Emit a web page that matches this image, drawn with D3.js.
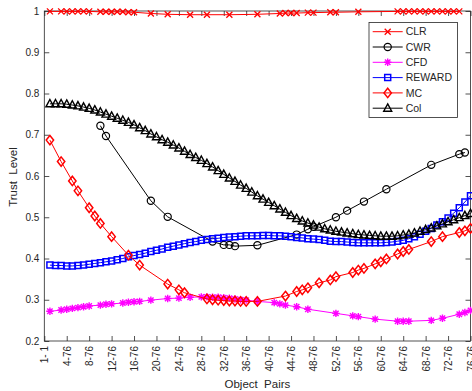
<!DOCTYPE html>
<html><head><meta charset="utf-8">
<script src="https://cdn.jsdelivr.net/npm/d3@7/dist/d3.min.js"></script>
<style>
body{margin:0;background:#fff;}
text{font-family:"Liberation Sans",Arial,Helvetica,sans-serif;fill:#262626;}
</style></head>
<body><svg id="c" width="472" height="391"></svg>
<script>
// ---------- data ----------
const xTickValues = [0,4,8,12,16,20,24,28,32,36,40,44,48,52,56,60,64,68,72,76];
const xTickLabels = ["1- 1","4-76","8-76","12-76","16-76","20-76","24-76","28-76","32-76","36-76","40-76","44-76","48-76","52-76","56-76","60-76","64-76","68-76","72-76","76-76"];
const yTickValues = [0.2,0.3,0.4,0.5,0.6,0.7,0.8,0.9,1];
const yTickLabels = ["0.2","0.3","0.4","0.5","0.6","0.7","0.8","0.9","1"];

const seriesNames = ["CLR","CWR","CFD","REWARD","MC","Col"];

const clrX = [1,3,4,5,6,7,8,10,11,12,13,14,15,16,19,22,26,29,33,38,42,43,44,45,47,48,51,52,56,63,64,65,66,67,68,69,70,71,72,73,74];
const clrY = [0.999,0.999,0.999,0.999,0.999,0.999,0.999,0.998,0.998,0.998,0.998,0.998,0.997,0.997,0.994,0.992,0.991,0.991,0.991,0.992,0.994,0.995,0.995,0.995,0.996,0.996,0.997,0.997,0.998,0.999,0.999,0.999,0.999,0.999,0.999,0.999,0.999,0.999,0.999,0.999,0.999];

const cwrX = [10,11,19,22,30,32,33,34,38,45,47,48,52,54,57,61,69,74,75];
const cwrY = [0.722,0.697,0.540,0.501,0.441,0.433,0.433,0.430,0.432,0.458,0.471,0.477,0.500,0.516,0.538,0.568,0.627,0.653,0.657];

const cfdX = [1,3,4,5,6,7,8,10,11,12,14,15,16,17,19,22,24,26,28,29,30,31,32,33,34,35,36,38,41,42,43,45,47,52,55,56,59,63,64,65,69,71,74,75,76];
const cfdY = [0.272,0.275,0.277,0.279,0.281,0.283,0.285,0.287,0.289,0.290,0.292,0.294,0.295,0.296,0.299,0.303,0.304,0.306,0.307,0.307,0.306,0.306,0.305,0.304,0.302,0.300,0.299,0.296,0.293,0.290,0.287,0.283,0.277,0.267,0.261,0.259,0.253,0.248,0.248,0.248,0.250,0.255,0.265,0.269,0.274];

const rewardX = [1,2,3,4,5,6,7,8,9,10,11,12,13,14,15,16,17,18,19,20,21,22,23,24,25,26,27,28,29,30,31,32,33,34,35,36,37,38,39,40,41,42,43,44,45,46,47,48,49,50,51,52,53,54,55,56,57,58,59,60,61,62,63,64,65,66,67,68,69,70,71,72,73,74,75,76];
const rewardY = [0.384,0.383,0.383,0.382,0.382,0.383,0.384,0.386,0.388,0.390,0.392,0.394,0.397,0.400,0.404,0.407,0.410,0.413,0.417,0.420,0.423,0.427,0.430,0.433,0.436,0.439,0.441,0.444,0.446,0.448,0.449,0.451,0.452,0.453,0.454,0.455,0.455,0.455,0.456,0.456,0.455,0.455,0.454,0.453,0.451,0.450,0.448,0.447,0.446,0.444,0.442,0.441,0.441,0.440,0.439,0.438,0.438,0.438,0.438,0.438,0.439,0.440,0.442,0.444,0.448,0.453,0.459,0.466,0.473,0.481,0.489,0.498,0.510,0.523,0.537,0.552];

const mcX = [1,3,5,6,8,9,10,12,15,17,22,24,25,29,30,31,32,33,34,35,36,38,43,45,46,47,49,51,52,55,56,57,59,60,61,63,64,65,69,71,74,75,76];
const mcY = [0.687,0.635,0.588,0.564,0.523,0.503,0.485,0.453,0.408,0.384,0.338,0.324,0.317,0.302,0.300,0.299,0.298,0.297,0.297,0.296,0.296,0.296,0.309,0.320,0.324,0.329,0.341,0.348,0.356,0.366,0.372,0.376,0.387,0.392,0.399,0.411,0.417,0.422,0.441,0.453,0.463,0.467,0.473];

const colX = [1,2,3,4,5,6,7,8,9,10,11,12,13,14,15,16,17,18,19,20,21,22,23,24,25,26,27,28,29,30,31,32,33,34,35,36,37,38,39,40,41,42,43,44,45,46,47,48,49,50,51,52,53,54,55,56,57,58,59,60,61,62,63,64,65,66,67,68,69,70,71,72,73,74,75,76];
const colY = [0.775,0.775,0.775,0.774,0.772,0.770,0.767,0.764,0.760,0.755,0.750,0.745,0.740,0.735,0.730,0.724,0.717,0.710,0.702,0.695,0.688,0.682,0.675,0.668,0.660,0.652,0.645,0.638,0.630,0.622,0.613,0.604,0.595,0.587,0.578,0.570,0.561,0.552,0.544,0.536,0.528,0.520,0.512,0.504,0.497,0.491,0.486,0.481,0.476,0.472,0.469,0.466,0.464,0.462,0.460,0.458,0.457,0.456,0.455,0.454,0.454,0.454,0.455,0.457,0.459,0.462,0.466,0.470,0.474,0.479,0.484,0.489,0.494,0.499,0.504,0.509];

// ---------- layout ----------
const L = 44.3, R = 470.5, T = 11, B = 341;
const svg = d3.select("#c");
const x = d3.scaleLinear().domain([0,76]).range([L,R]);
const y = d3.scaleLinear().domain([0.2,1]).range([B,T]);
const axisColor = "#262626";

const series = [
  {name:"CLR", xs:clrX, ys:clrY, color:"#ff0000", marker:"x", mw:1.3},
  {name:"CWR", xs:cwrX, ys:cwrY, color:"#000000", marker:"circle", mw:1.2},
  {name:"CFD", xs:cfdX, ys:cfdY, color:"#ff00ff", marker:"star", mw:1.4},
  {name:"REWARD", xs:rewardX, ys:rewardY, color:"#0000ff", marker:"square", mw:1.5},
  {name:"MC", xs:mcX, ys:mcY, color:"#ff0000", marker:"diamond", mw:1.5},
  {name:"Col", xs:colX, ys:colY, color:"#000000", marker:"triangle", mw:1.4}
];

function markerPath(type){
  switch(type){
    case "x": return "M-3,-3L3,3M-3,3L3,-3";
    case "circle": return "M3.6,0A3.6,3.6 0 1,1 -3.6,0A3.6,3.6 0 1,1 3.6,0Z";
    case "star": return "M-3.7,0L3.7,0M0,-3.7L0,3.7M-2.7,-2.7L2.7,2.7M-2.7,2.7L2.7,-2.7";
    case "square": return "M-3,-3L3,-3L3,3L-3,3Z";
    case "diamond": return "M0,-4.7L3.7,0L0,4.7L-3.7,0Z";
    case "triangle": return "M0,-4.3L4,3L-4,3Z";
  }
}

svg.append("rect").attr("x",0).attr("y",0).attr("width",472).attr("height",391).attr("fill","#fff");

// axes
const fontSize = "10px";
const gLeft = svg.append("g").attr("transform",`translate(${L},0)`)
  .call(d3.axisLeft(y).tickValues(yTickValues).tickFormat((d,i)=>yTickLabels[i]).tickSize(-5).tickSizeOuter(0).tickPadding(5));
const gRight = svg.append("g").attr("transform",`translate(${R},0)`)
  .call(d3.axisRight(y).tickValues(yTickValues).tickFormat("").tickSize(-5).tickSizeOuter(0));
const gTop = svg.append("g").attr("transform",`translate(0,${T})`)
  .call(d3.axisTop(x).tickValues(xTickValues).tickFormat("").tickSize(-5).tickSizeOuter(0));
const gBottom = svg.append("g").attr("transform",`translate(0,${B})`)
  .call(d3.axisBottom(x).tickValues(xTickValues).tickFormat((d,i)=>xTickLabels[i]).tickSize(-5).tickSizeOuter(0));
gBottom.selectAll("text")
  .attr("transform","rotate(-90)")
  .attr("x",-5).attr("y",0).attr("dy","0.35em")
  .style("text-anchor","end");
[gLeft,gRight,gTop,gBottom].forEach(g=>{
  g.selectAll("path.domain").remove();
  g.selectAll("line").attr("stroke",axisColor).attr("stroke-width",0.8);
  g.selectAll("text").attr("font-size",fontSize).attr("fill",axisColor)
   .attr("font-family","Liberation Sans, Arial, sans-serif");
});
svg.append("rect").attr("x",L).attr("y",T).attr("width",R-L).attr("height",B-T)
  .attr("fill","none").attr("stroke",axisColor).attr("stroke-width",0.8);

// labels
svg.append("text").attr("x",(L+R)/2).attr("y",388).attr("text-anchor","middle")
  .attr("font-size","11.5px").style("white-space","pre").text("Object  Pairs");
svg.append("text").attr("transform","translate(16.5,177) rotate(-90)").attr("text-anchor","middle")
  .attr("font-size","11.5px").style("white-space","pre").text("Trust  Level");

// series
const line = d3.line().x(d=>x(d[0])).y(d=>y(d[1]));
series.forEach(s=>{
  const pts = s.xs.map((v,i)=>[v,s.ys[i]]);
  const g = svg.append("g");
  g.append("path").datum(pts).attr("d",line).attr("fill","none")
    .attr("stroke",s.color).attr("stroke-width",1);
  g.selectAll("path.m").data(pts).enter().append("path").attr("class","m")
    .attr("transform",d=>`translate(${x(d[0])},${y(d[1])})`)
    .attr("d",markerPath(s.marker)).attr("fill","none")
    .attr("stroke",s.color).attr("stroke-width",s.mw);
});

// legend
const lg = svg.append("g");
const lgX = 369, lgY = 22.5, lgW = 88.5, lgH = 95;
lg.append("rect").attr("x",lgX).attr("y",lgY).attr("width",lgW).attr("height",lgH)
  .attr("fill","#fff").attr("stroke",axisColor).attr("stroke-width",0.8);
series.forEach((s,i)=>{
  const yy = 31.7 + i*15.3;
  lg.append("line").attr("x1",372.7).attr("x2",402.7).attr("y1",yy).attr("y2",yy)
    .attr("stroke",s.color).attr("stroke-width",1);
  lg.append("path").attr("transform",`translate(387.7,${yy})`).attr("d",markerPath(s.marker))
    .attr("fill","none").attr("stroke",s.color).attr("stroke-width",s.mw);
  lg.append("text").attr("x",405.7).attr("y",yy).attr("dy","0.35em")
    .attr("font-size","10.5px").attr("fill","#000").text(seriesNames[i]);
});
</script></body></html>
